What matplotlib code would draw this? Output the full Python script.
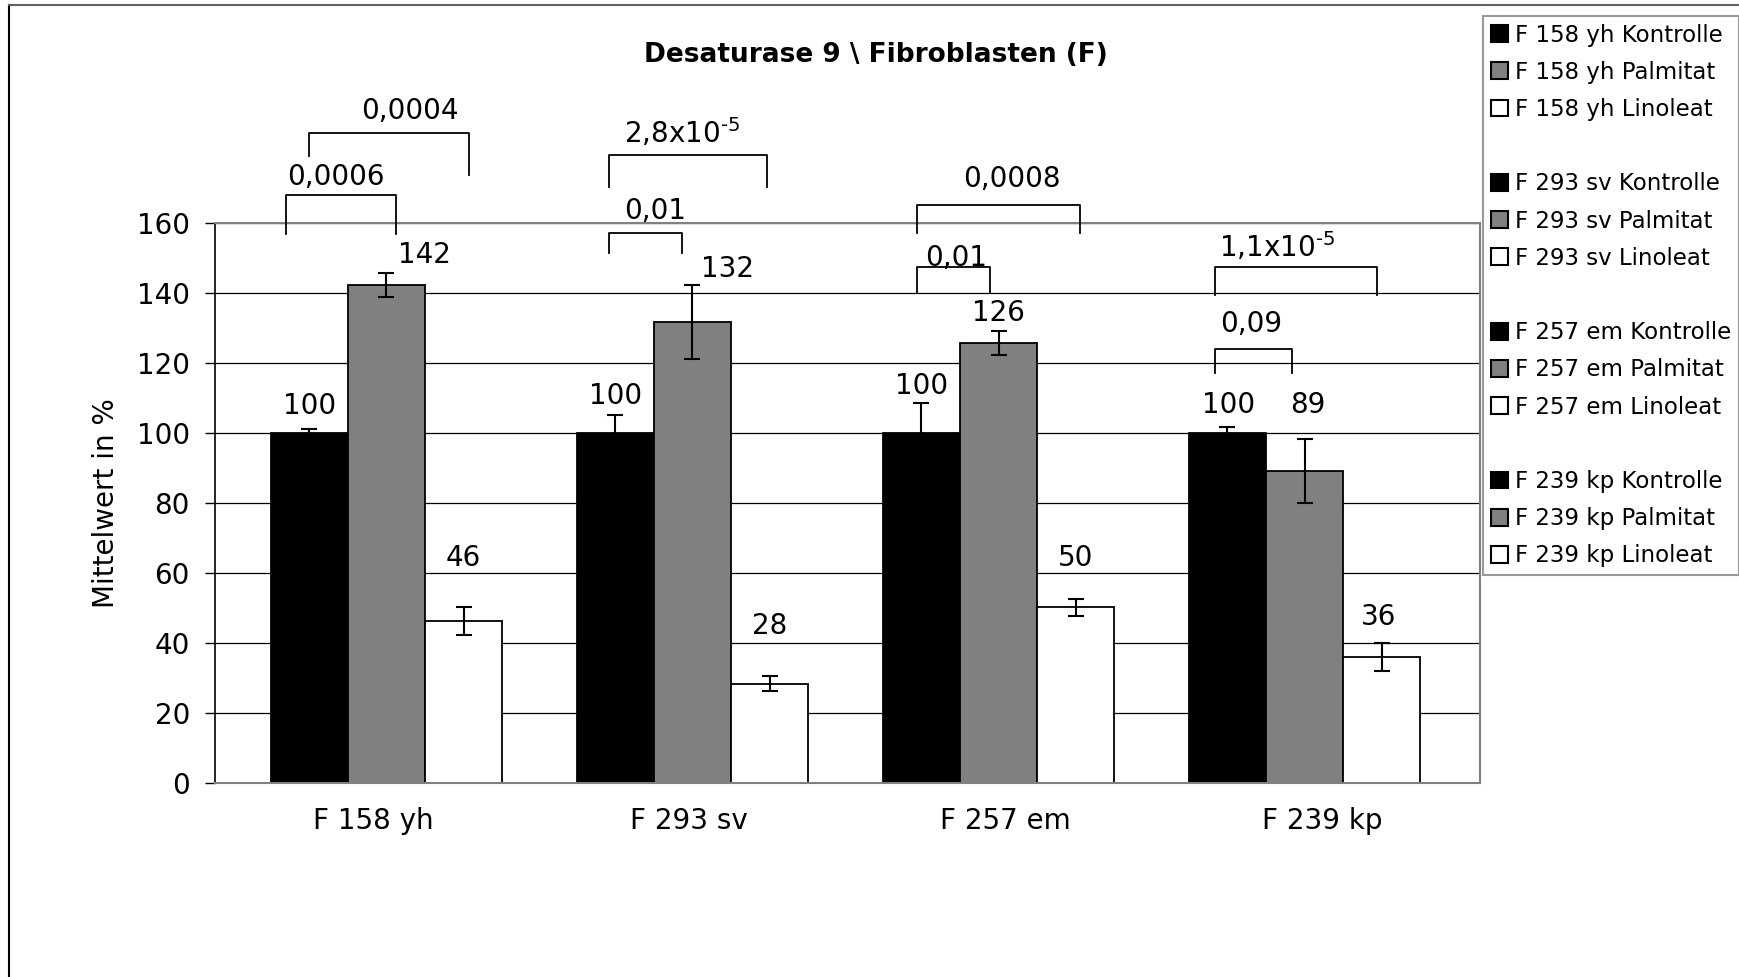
import matplotlib
matplotlib.use("Agg")
import matplotlib.pyplot as plt
from matplotlib.patches import Patch
from matplotlib.lines import Line2D

# Daten
groups = ["F 158 yh", "F 293 sv", "F 257 em", "F 239 kp"]
treatments = ["Kontrolle", "Palmitat", "Linoleat"]

kontrolle = [100, 100, 100, 100]
palmitat = [142.3, 131.7, 125.7, 89.1]
linoleat = [46.3, 28.4, 50.2, 36.0]

kontrolle_err = [1.1, 5.1, 8.6, 1.7]
palmitat_err = [3.4, 10.6, 3.4, 9.2]
linoleat_err = [4.1, 2.15, 2.4, 3.9]

# p-Werte (Klammern über den Balken)
p_group = [0, 0, 1, 1, 2, 2, 3, 3]
p_text = ["0,0006", "0,0004", "0,01", "2,8x10$^{\\text{-5}}$",
          "0,01", "0,0008", "0,09", "1,1x10$^{\\text{-5}}$"]

# Layout der Klammern und Beschriftungen (relativ zur Gruppenmitte)
br_x0 = [-0.328, -0.253, -0.273, -0.273, -0.266, -0.266, -0.292, -0.292]
br_x1 = [0.031, 0.270, -0.034, 0.243, -0.028, 0.266, -0.041, 0.237]
br_top = [168.0, 185.7, 157.1, 179.4, 147.4, 165.1, 124.0, 147.4]
br_leg0 = [156.9, 179.1, 151.4, 170.3, 140.0, 157.1, 117.1, 139.4]
br_leg1 = [156.9, 173.7, 151.4, 170.3, 140.0, 157.1, 117.1, 139.4]
p_lab_x = [-0.165, 0.077, -0.123, -0.034, -0.139, 0.044, -0.175, -0.090]
p_lab_y = [173.7, 192.6, 164.0, 185.7, 150.6, 173.1, 131.7, 153.1]

val_lab_dx = [[0, 0, 0, 0.005], [0.123, 0.116, 0, 0.01], [0, 0, 0, -0.01]]
val_lab_y = [[108.3, 111.1, 114.0, 108.6],
             [151.4, 147.4, 134.9, 108.6],
             [64.9, 45.4, 64.9, 48.0]]

colors = ["#000000", "#808080", "#ffffff"]
width = 0.252
xmin, xmax = -0.560, 3.573

fig = plt.figure(figsize=(17.39, 9.77), dpi=100)
ax = fig.add_axes([215 / 1739, 1 - 783 / 977, 1265 / 1739, 560 / 977])

values = [kontrolle, palmitat, linoleat]
errors = [kontrolle_err, palmitat_err, linoleat_err]
for j in range(3):
    xs = [i + (j - 1) * width for i in range(len(groups))]
    ax.bar(xs, values[j], width=width, color=colors[j], edgecolor="black",
           linewidth=1.3, zorder=2, yerr=errors[j],
           error_kw=dict(ecolor="black", elinewidth=1.5, capsize=6, capthick=1.5, zorder=3))
    for i, v in enumerate(values[j]):
        ax.annotate(str(round(v)), (xs[i] + val_lab_dx[j][i], val_lab_y[j][i]),
                    xytext=(0, -7.2), textcoords="offset points",
                    ha="center", va="baseline", fontsize=20, annotation_clip=False)

# Klammern
for k in range(len(p_text)):
    g = p_group[k]
    ax.plot([g + br_x0[k], g + br_x0[k], g + br_x1[k], g + br_x1[k]],
            [br_leg0[k], br_top[k], br_top[k], br_leg1[k]],
            color="black", lw=1.3, clip_on=False, zorder=4)
    ax.annotate(p_text[k], (g + p_lab_x[k], p_lab_y[k]),
                xytext=(0, -7.2), textcoords="offset points",
                ha="center", va="baseline", fontsize=20, annotation_clip=False)

ax.set_xlim(xmin, xmax)
ax.set_ylim(0, 160)
ax.set_yticks(range(0, 161, 20))
ticks = [xmin + (k + 0.5) * (xmax - xmin) / len(groups) for k in range(len(groups))]
ax.set_xticks(ticks)
ax.set_xticklabels(groups)
ax.tick_params(axis="x", length=0, pad=17, labelsize=20)
ax.tick_params(axis="y", length=7, width=1, pad=11, labelsize=20)

ax.set_axisbelow(True)
ax.yaxis.grid(True, color="black", linewidth=0.9)
for s in ["top", "right", "bottom"]:
    ax.spines[s].set_color("#808080")
    ax.spines[s].set_linewidth(1.5)
ax.spines["left"].set_color("black")
ax.spines["left"].set_linewidth(1.2)

ax.set_ylabel("Mittelwert in %", fontsize=20, va="center")
ax.yaxis.set_label_coords((106 - 215) / 1265, 0.5)

fig.text(876 / 1739, 1 - 55 / 977, "Desaturase 9 \\ Fibroblasten (F)",
         ha="center", va="center", fontsize=19, fontweight="bold")

# Legende
handles, labels = [], []
for i, g in enumerate(groups):
    if i > 0:
        handles.append(Patch(facecolor="none", edgecolor="none"))
        labels.append(" ")
    for j, t in enumerate(treatments):
        handles.append(Patch(facecolor=colors[j], edgecolor="black", linewidth=1.5))
        labels.append(f"{g} {t}")
leg = fig.legend(handles, labels, loc="upper left",
                 bbox_to_anchor=(1483 / 1739, 1 - 15.5 / 977),
                 fontsize=16.5, frameon=True, fancybox=False, borderaxespad=0,
                 borderpad=0.35, labelspacing=0.62, handlelength=0.75,
                 handleheight=0.75, handletextpad=0.3)
leg.get_frame().set_edgecolor("#808080")
leg.get_frame().set_linewidth(1.5)

# Rahmen um das Diagramm
fig.add_artist(Line2D([9 / 1739, 9 / 1739], [0, 1 - 5 / 977], color="black", lw=1.5))
fig.add_artist(Line2D([9 / 1739, 1], [1 - 5 / 977, 1 - 5 / 977], color="#606060", lw=1.5))

fig.savefig("out.png", dpi=100)
